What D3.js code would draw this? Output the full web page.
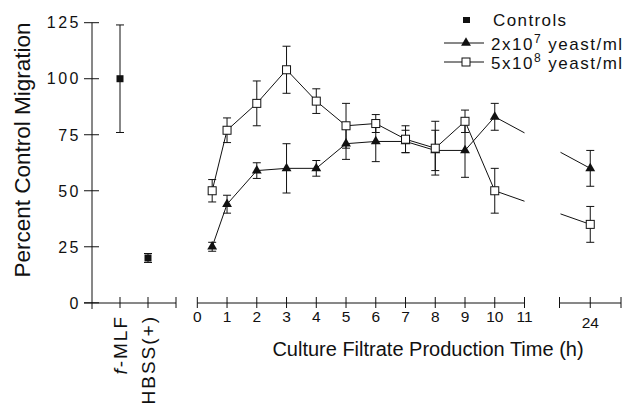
<!DOCTYPE html>
<html>
<head>
<meta charset="utf-8">
<script src="https://cdn.jsdelivr.net/npm/d3@7"></script>
<style>
  body { margin: 0; background: #fff; }
  svg { display: block; font-family: "Liberation Sans", Arial, sans-serif; }
  text { fill: #111; }
</style>
</head>
<body>
<svg id="chart" width="623" height="405"></svg>
<script>
// controls (left panel)
var controlLabels = ["f-MLF", "HBSS(+)"];
var controlValues = [100, 20];
var controlErr = [24, 2];

// time course (h)
var hours = [0.5, 1, 2, 3, 4, 5, 6, 7, 8, 9, 10, 24];
// 2x10^7 yeast/ml
var lowDose = [25, 44, 59, 60, 60, 71, 72, 72, 68, 68, 83, 60];
var lowDoseErr = [2, 4, 3.5, 11, 3.5, 7, 9, 5, 9, 12, 6, 8];
// 5x10^8 yeast/ml
var highDose = [50, 77, 89, 104, 90, 79, 80, 73, 69, 81, 50, 35];
var highDoseErr = [5, 5.5, 10, 10.5, 5.5, 10, 4, 6, 12, 5, 10, 8];

var yTicks = [0, 25, 50, 75, 100, 125];
var midTicks = [0, 1, 2, 3, 4, 5, 6, 7, 8, 9, 10, 11];
var rightTicks = [23, 24, 25];
var rightLabels = [24];

var svg = d3.select("#chart");
var ink = "#111";

var y = d3.scaleLinear().domain([0, 125]).range([302.8, 22.7]);
var xCtrl = d3.scaleLinear().domain([0, 3]).range([92, 176]);
// broken time axis: 0-11 then 23-25
var x = d3.scaleLinear().domain([0, 11, 23, 25]).range([197.3, 524.5, 559.5, 621]);
var axisY = 303;

// ---- axes ----
var ax = svg.append("g").attr("stroke", ink).attr("stroke-width", 1).attr("fill", "none");
ax.append("line").attr("x1", 92).attr("x2", 92).attr("y1", y(125)).attr("y2", axisY + 6);
ax.append("line").attr("x1", 84).attr("x2", xCtrl(3)).attr("y1", axisY).attr("y2", axisY);
ax.selectAll(".yt").data(yTicks).enter().append("line")
  .attr("x1", 84).attr("x2", 99).attr("y1", function(d) { return y(d); }).attr("y2", function(d) { return y(d); });
ax.selectAll(".ct").data([1, 2, 3]).enter().append("line")
  .attr("x1", function(d) { return xCtrl(d); }).attr("x2", function(d) { return xCtrl(d); })
  .attr("y1", axisY - 6).attr("y2", axisY + 5);

ax.append("line").attr("x1", x(0)).attr("x2", x(11)).attr("y1", axisY).attr("y2", axisY);
ax.append("line").attr("x1", x(23)).attr("x2", x(25)).attr("y1", axisY).attr("y2", axisY);
ax.selectAll(".mt").data(midTicks.concat(rightTicks)).enter().append("line")
  .attr("x1", function(d) { return x(d); }).attr("x2", function(d) { return x(d); })
  .attr("y1", axisY - 6).attr("y2", axisY + 5);

// tick labels
svg.selectAll(".ylab").data(yTicks).enter().append("text")
  .attr("x", 81).attr("y", function(d) { return y(d); }).attr("dy", "0.36em")
  .attr("text-anchor", "end").attr("font-size", 16).attr("letter-spacing", 2.5)
  .text(function(d) { return d; });

svg.selectAll(".xlab").data(midTicks).enter().append("text")
  .attr("x", function(d) { return x(d); }).attr("y", 321.5)
  .attr("text-anchor", "middle").attr("font-size", 15.5)
  .text(function(d) { return d; });
svg.selectAll(".rlab").data(rightLabels).enter().append("text")
  .attr("x", function(d) { return x(d); }).attr("y", 327.5)
  .attr("text-anchor", "middle").attr("font-size", 15.5)
  .text(function(d) { return d; });

var cl = svg.selectAll(".clab").data(controlLabels).enter().append("text")
  .attr("transform", function(d, i) { return "translate(" + (xCtrl(i + 1) + 7) + ",315) rotate(-90)"; })
  .attr("text-anchor", "end").attr("font-size", 19).attr("letter-spacing", 2);
cl.each(function(d) {
  var t = d3.select(this);
  if (d.charAt(0) === "f") {
    t.append("tspan").attr("font-style", "italic").text("f");
    t.append("tspan").text(d.slice(1));
  } else {
    t.text(d);
  }
});

// axis titles
svg.append("text").attr("transform", "translate(30,150) rotate(-90)")
  .attr("text-anchor", "middle").attr("font-size", 22.5)
  .text("Percent Control Migration");
svg.append("text").attr("x", 428).attr("y", 356)
  .attr("text-anchor", "middle").attr("font-size", 20)
  .text("Culture Filtrate Production Time (h)");

// ---- error bars ----
function errorBars(g, xs, vals, errs) {
  var cap = 4;
  xs.forEach(function(px, i) {
    var top = y(vals[i] + errs[i]), bot = y(vals[i] - errs[i]);
    g.append("line").attr("x1", px).attr("x2", px).attr("y1", top).attr("y2", bot);
    g.append("line").attr("x1", px - cap).attr("x2", px + cap).attr("y1", top).attr("y2", top);
    g.append("line").attr("x1", px - cap).attr("x2", px + cap).attr("y1", bot).attr("y2", bot);
  });
}
var eb = svg.append("g").attr("stroke", ink).attr("stroke-width", 1);
errorBars(eb, controlValues.map(function(d, i) { return xCtrl(i + 1); }), controlValues, controlErr);
errorBars(eb, hours.map(function(h) { return x(h); }), lowDose, lowDoseErr);
errorBars(eb, hours.map(function(h) { return x(h); }), highDose, highDoseErr);

// ---- lines (broken between panels) ----
var defs = svg.append("defs");
var clip = defs.append("clipPath").attr("id", "gap");
clip.append("rect").attr("x", 180).attr("y", 0).attr("width", x(11) - 180).attr("height", 405);
clip.append("rect").attr("x", x(23) + 1).attr("y", 0).attr("width", 100).attr("height", 405);

function series(vals) {
  return hours.map(function(h, i) { return [x(h), y(vals[i])]; });
}
var line = d3.line();
var lg = svg.append("g").attr("clip-path", "url(#gap)").attr("fill", "none").attr("stroke", ink).attr("stroke-width", 1);
lg.append("path").attr("d", line(series(lowDose)));
lg.append("path").attr("d", line(series(highDose)));

// ---- markers ----
var tri = d3.symbol().type(d3.symbolTriangle).size(42);
svg.append("g").selectAll("path").data(series(lowDose)).enter().append("path")
  .attr("d", tri).attr("transform", function(d) { return "translate(" + d[0] + "," + d[1] + ")"; })
  .attr("fill", ink);

svg.append("g").selectAll("rect").data(series(highDose)).enter().append("rect")
  .attr("x", function(d) { return d[0] - 4; }).attr("y", function(d) { return d[1] - 4; })
  .attr("width", 8).attr("height", 8)
  .attr("fill", "#fff").attr("stroke", ink).attr("stroke-width", 1);

svg.append("g").selectAll("rect").data(controlValues).enter().append("rect")
  .attr("x", function(d, i) { return xCtrl(i + 1) - 3.5; }).attr("y", function(d) { return y(d) - 3.5; })
  .attr("width", 7).attr("height", 7).attr("fill", ink);

// ---- legend ----
var lgd = svg.append("g");
lgd.append("rect").attr("x", 463).attr("y", 17).attr("width", 7).attr("height", 6).attr("fill", ink);
lgd.append("text").attr("x", 493).attr("y", 20).attr("dy", "0.36em").attr("font-size", 17)
  .attr("letter-spacing", 1.4).text("Controls");

var rows = [{ y: 43, exp: "7", kind: "tri" }, { y: 62, exp: "8", kind: "sq" }];
rows.forEach(function(r) {
  lgd.append("line").attr("x1", 444).attr("x2", 484).attr("y1", r.y).attr("y2", r.y)
    .attr("stroke", ink).attr("stroke-width", 1);
  if (r.kind === "tri") {
    lgd.append("path").attr("d", tri).attr("transform", "translate(466," + r.y + ")").attr("fill", ink);
  } else {
    lgd.append("rect").attr("x", 462).attr("y", r.y - 4).attr("width", 8).attr("height", 8)
      .attr("fill", "#fff").attr("stroke", ink);
  }
  var t = lgd.append("text").attr("x", 491).attr("y", r.y).attr("dy", "0.4em")
    .attr("font-size", 17).attr("letter-spacing", 1.5);
  t.append("tspan").text(r.kind === "tri" ? "2x10" : "5x10");
  t.append("tspan").attr("dy", -7).attr("font-size", 12).text(r.exp);
  t.append("tspan").attr("dy", 7).text(" yeast/ml");
});
</script>
</body>
</html>
